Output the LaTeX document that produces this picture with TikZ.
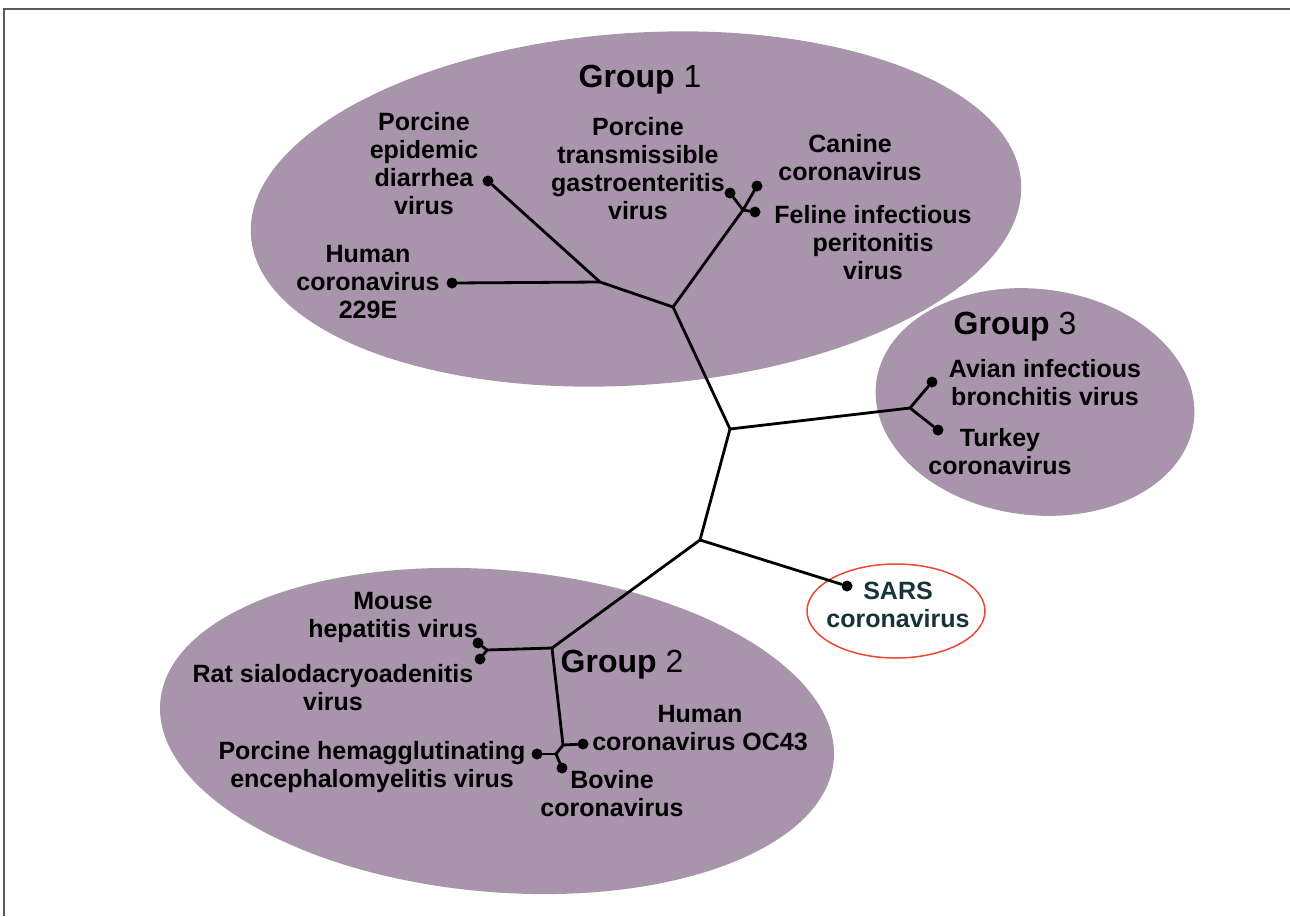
\documentclass[tikz,border=0pt]{standalone}
\usepackage{fontspec}
\setmainfont{Liberation Sans}
\usetikzlibrary{shapes.geometric}
\definecolor{grpfill}{RGB}{168,148,171}
\definecolor{ringred}{RGB}{232,72,52}
\definecolor{sarsink}{RGB}{22,52,56}
\tikzset{
  branch/.style={line width=2.8pt, line cap=round, line join=round},
  leaf/.style={circle, fill=black, inner sep=0pt, minimum size=11pt},
  lbl/.style={align=center, font=\fontsize{25}{28}\selectfont\bfseries, inner sep=0pt},
  grplbl/.style={font=\fontsize{32}{36}\selectfont, inner sep=0pt},
  grp/.style={ellipse, fill=grpfill, inner sep=0pt},
}
\begin{document}
\begin{tikzpicture}[x=1pt, y=-1pt]
\useasboundingbox (0,0) rectangle (1290,916);
\draw [gray!70!black, line width=2pt] (4,916) -- (4,9) -- (1290,9);

% the three groups
\node [grp, minimum width=772pt, minimum height=352pt, rotate=4] (g1) at (636,209) {};
\node [grp, minimum width=320pt, minimum height=226pt, rotate=-7] (g3) at (1035,402) {};
\node [grp, minimum width=676pt, minimum height=322pt, rotate=-5] (g2) at (497,731) {};
\node [ellipse, draw=ringred, line width=1.5pt, minimum width=178pt, minimum height=94pt] (ring) at (896,611) {};

% junctions
\coordinate (jA) at (730,429);
\coordinate (jB) at (700,540);
\coordinate (j0) at (673,307);
\coordinate (j1) at (600,282);
\coordinate (j2) at (743,210);
\coordinate (j3) at (910,408);
\coordinate (j4) at (552,648);
\coordinate (jm) at (487,650);
\coordinate (j5) at (563,745);
\coordinate (j6) at (556,754);

% leaves
\node [leaf] (dPEDV) at (488,181) {};
\node [leaf] (d229E) at (452,283) {};
\node [leaf] (dTGEV) at (730,193) {};
\node [leaf] (dCCoV) at (757,186) {};
\node [leaf] (dFIPV) at (755,212) {};
\node [leaf] (dIBV) at (932,382) {};
\node [leaf] (dTCoV) at (938,430) {};
\node [leaf] (dSARS) at (847,586) {};
\node [leaf] (dMHV) at (478,643) {};
\node [leaf] (dRat) at (480,659) {};
\node [leaf] (dOC43) at (583,744) {};
\node [leaf] (dPHEV) at (537,754) {};
\node [leaf] (dBCoV) at (562,768) {};

% tree
\draw [branch] (j0) -- (jA) -- (jB) -- (j4);
\draw [branch] (jA) -- (j3);
\draw [branch] (jB) -- (dSARS);
\draw [branch] (j0) -- (j1);
\draw [branch] (j1) -- (dPEDV);
\draw [branch] (j1) -- (d229E);
\draw [branch] (j0) -- (j2);
\draw [branch] (j2) -- (dTGEV);
\draw [branch] (j2) -- (dCCoV);
\draw [branch] (j2) -- (dFIPV);
\draw [branch] (j3) -- (dIBV);
\draw [branch] (j3) -- (dTCoV);
\draw [branch] (j4) -- (jm);
\draw [branch] (jm) -- (dMHV);
\draw [branch] (jm) -- (dRat);
\draw [branch] (j4) -- (j5);
\draw [branch] (j5) -- (dOC43);
\draw [branch] (j5) -- (j6);
\draw [branch] (j6) -- (dPHEV);
\draw [branch] (j6) -- (dBCoV);

% labels
\node [grplbl] (grp1) at (640,80) {\textbf{Group} 1};
\node [grplbl] (grp3) at (1015,327) {\textbf{Group} 3};
\node [grplbl] (grp2) at (622,665) {\textbf{Group} 2};

\node [lbl] (tPEDV) at (424,164) {Porcine\\epidemic\\diarrhea\\virus};
\node [lbl] (tTGEV) at (638,169) {Porcine\\transmissible\\gastroenteritis\\virus};
\node [lbl] (tCCoV) at (850,158) {Canine\\coronavirus};
\node [lbl] (tFIPV) at (873,243) {Feline infectious\\peritonitis\\virus};
\node [lbl] (t229E) at (368,282) {Human\\coronavirus\\229E};
\node [lbl] (tIBV) at (1045,383) {Avian infectious\\bronchitis virus};
\node [lbl] (tTCoV) at (1000,452) {Turkey\\coronavirus};
\node [lbl, text=sarsink] (tSARS) at (898,605) {SARS\\coronavirus};
\node [lbl] (tMHV) at (393,617) {Mouse\\hepatitis virus};
\node [lbl] (tRat) at (333,688) {Rat sialodacryoadenitis\\virus};
\node [lbl] (tOC43) at (700,728) {Human\\coronavirus OC43};
\node [lbl] (tPHEV) at (372,767) {Porcine hemagglutinating\\encephalomyelitis virus};
\node [lbl] (tBCoV) at (612,794) {Bovine\\coronavirus};
\end{tikzpicture}
\end{document}
